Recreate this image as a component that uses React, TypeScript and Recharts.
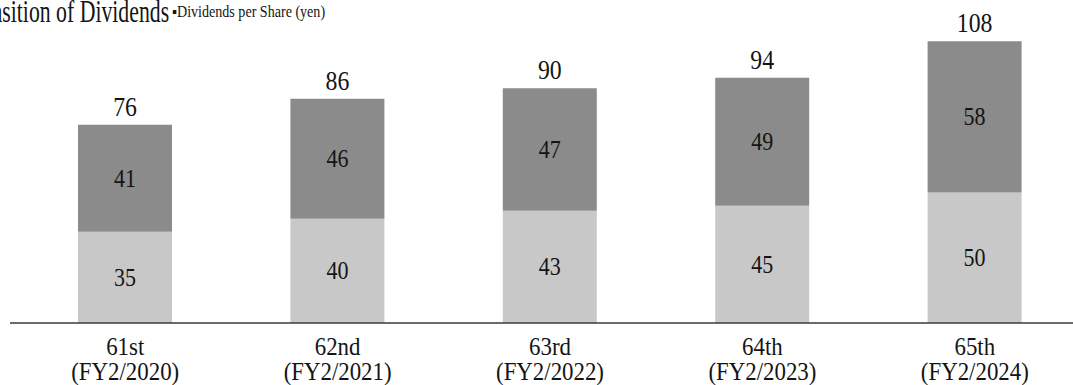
import React from 'react';
import { BarChart, Bar, XAxis, YAxis, LabelList } from 'recharts';

const periods = ['61st', '62nd', '63rd', '64th', '65th'];
const fiscalYears = ['(FY2/2020)', '(FY2/2021)', '(FY2/2022)', '(FY2/2023)', '(FY2/2024)'];
const lowerValues = [35, 40, 43, 45, 50];
const upperValues = [41, 46, 47, 49, 58];
const totals = [76, 86, 90, 94, 108];

const data = periods.map((p, i) => ({
  period: p,
  lower: lowerValues[i],
  upper: upperValues[i],
  total: totals[i],
}));

const SX = 0.88;
const FONT = '"Liberation Serif", "Times New Roman", serif';
const INK = '#141414';

const Tick = (props: any) => {
  const { x, y, payload, index } = props;
  return (
    <g transform={`translate(${x},${y}) scale(${SX},1)`}>
      <text x={0} y={32} textAnchor="middle" fontSize={26} fill={INK} fontFamily={FONT}>
        {payload.value}
      </text>
      <text x={0} y={57} textAnchor="middle" fontSize={26} fill={INK} fontFamily={FONT}>
        {fiscalYears[index]}
      </text>
    </g>
  );
};

const InnerLabel = (props: any) => {
  const { x, y, width, height, value } = props;
  const cx = Number(x) + Number(width) / 2;
  const cy = Number(y) + Number(height) / 2;
  return (
    <g transform={`translate(${cx},${cy + 8.5}) scale(${SX},1)`}>
      <text x={0} y={0} textAnchor="middle" fontSize={25} fill={INK} fontFamily={FONT}>
        {value}
      </text>
    </g>
  );
};

const TopLabel = (props: any) => {
  const { x, y, width, value } = props;
  const cx = Number(x) + Number(width) / 2;
  return (
    <g transform={`translate(${cx},${Number(y) - 9}) scale(${SX},1)`}>
      <text x={0} y={0} textAnchor="middle" fontSize={27} fill={INK} fontFamily={FONT}>
        {value}
      </text>
    </g>
  );
};

export default function App() {
  return (
    <div style={{ position: 'relative', width: 1073, height: 385, overflow: 'hidden', background: '#fff' }}>
      <style>{'body{margin:0;overflow:hidden;background:#fff}'}</style>
      <BarChart
        width={1081}
        height={385}
        data={data}
        margin={{ top: 10, right: 0, bottom: 0, left: 10 }}
        barSize={94}
      >
        <YAxis hide domain={[0, 120]} />
        <XAxis
          dataKey="period"
          height={62}
          padding={{ left: 9, right: 0 }}
          tickLine={false}
          tickSize={0}
          tickMargin={0}
          axisLine={{ stroke: '#3a3a3a', strokeWidth: 1.5 }}
          tick={<Tick />}
          interval={0}
        />
        <Bar dataKey="lower" stackId="a" fill="#c8c8c8" isAnimationActive={false}>
          <LabelList dataKey="lower" content={<InnerLabel />} />
        </Bar>
        <Bar dataKey="upper" stackId="a" fill="#8b8b8b" isAnimationActive={false}>
          <LabelList dataKey="upper" content={<InnerLabel />} />
          <LabelList dataKey="total" content={<TopLabel />} />
        </Bar>
      </BarChart>
      <svg
        width={1073}
        height={40}
        style={{ position: 'absolute', left: 0, top: 0, pointerEvents: 'none' }}
      >
        <g transform="translate(-38,22) scale(0.68,1)">
          <text x={0} y={0} fontSize={32} fill={INK} fontFamily={FONT}>
            Transition of Dividends
          </text>
        </g>
        <g transform={`translate(172,17) scale(${SX},1)`}>
          <text x={0} y={0} fontSize={16} fill={INK} fontFamily={FONT}>
            ▪Dividends per Share (yen)
          </text>
        </g>
      </svg>
    </div>
  );
}
